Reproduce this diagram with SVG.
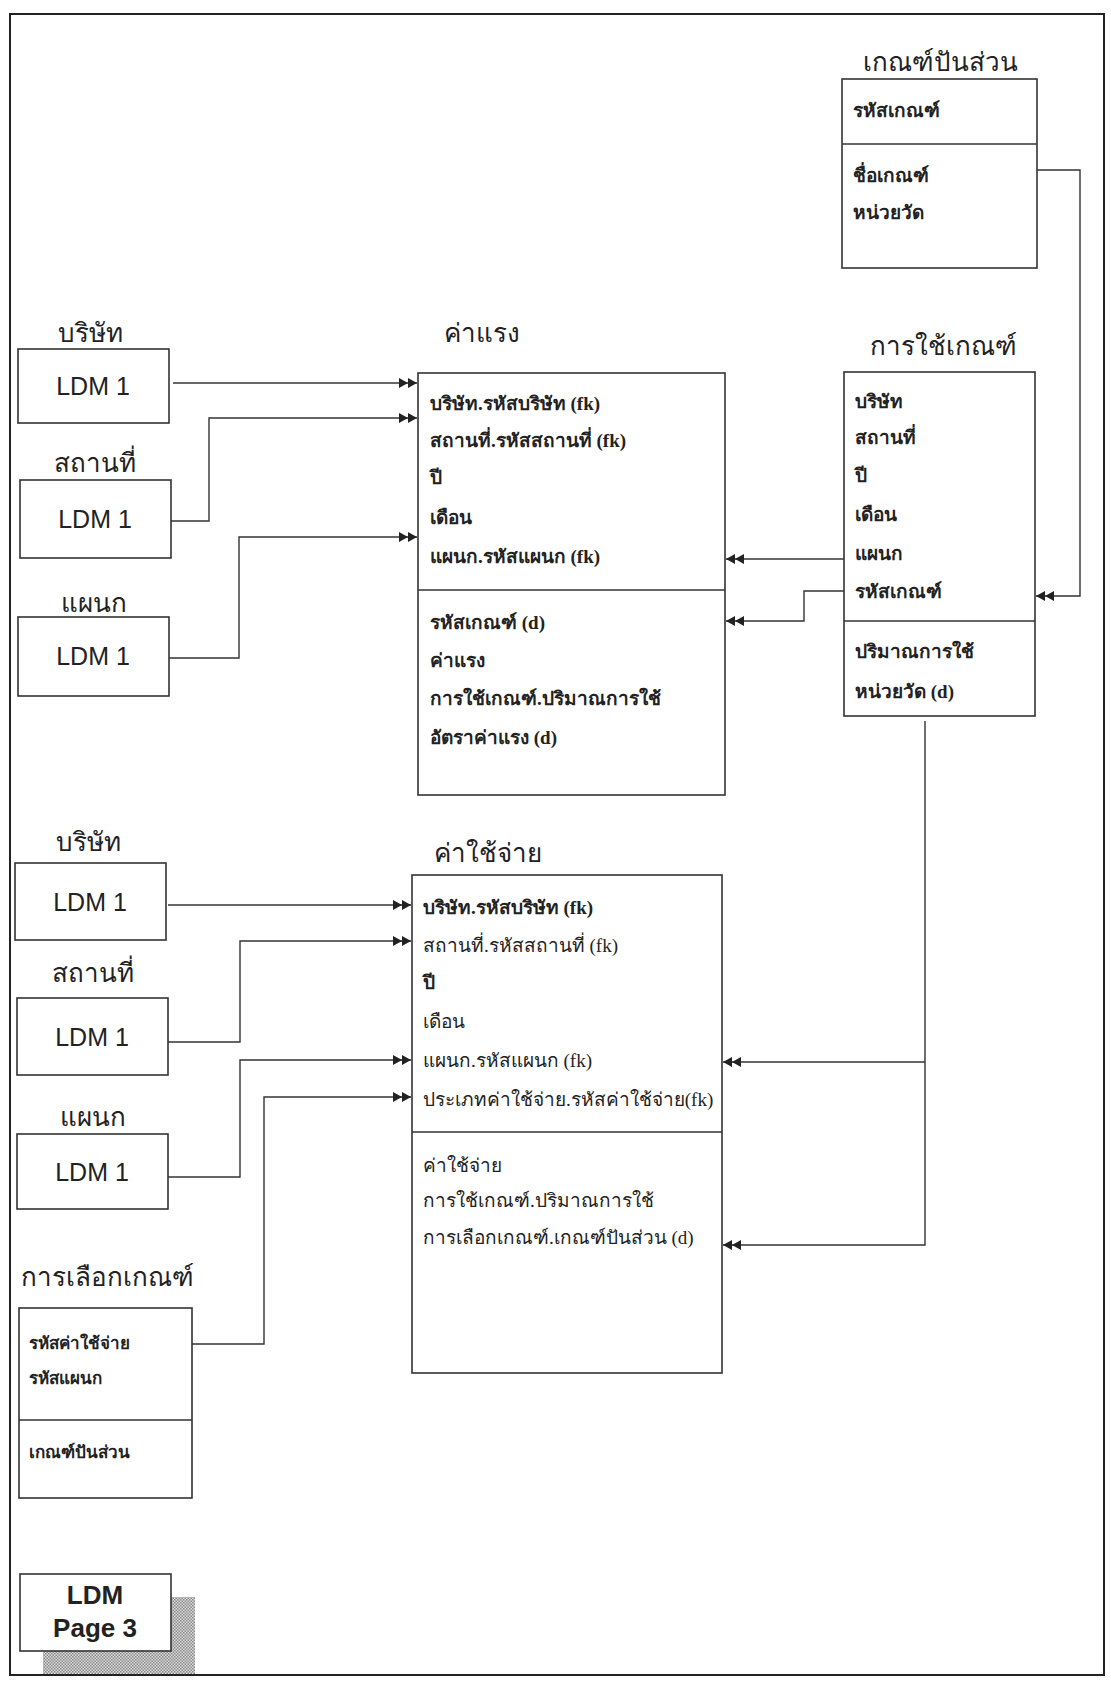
<svg xmlns="http://www.w3.org/2000/svg" width="1111" height="1683" viewBox="0 0 1111 1683">
  <defs>
    <style>
      .frame { fill: none; stroke: #222; stroke-width: 2; }
      .box { fill: #fff; stroke: #333; stroke-width: 1.6; }
      .div { stroke: #333; stroke-width: 1.4; }
      .conn { fill: none; stroke: #333; stroke-width: 1.4; }
      .title { font-family: "Noto Sans", "DejaVu Sans", sans-serif; font-size: 26px; fill: #222; text-anchor: middle; }
      .ldm { font-family: "Liberation Sans", Arial, sans-serif; font-size: 25px; fill: #222; text-anchor: middle; }
      .page { font-family: "Liberation Sans", Arial, sans-serif; font-size: 26px; font-weight: bold; fill: #222; text-anchor: middle; }
      .row { font-family: "Liberation Serif", "Noto Sans", serif; font-size: 19px; font-weight: bold; fill: #222; }
      .rown { font-family: "Liberation Serif", "Noto Sans", serif; font-size: 19px; fill: #222; }
      .rows { font-family: "Noto Sans", "DejaVu Sans", sans-serif; font-size: 17px; font-weight: 600; fill: #222; }
    </style>
    <marker id="dbl" markerUnits="userSpaceOnUse" viewBox="0 0 18 11" refX="18" refY="5.5" markerWidth="18" markerHeight="11" orient="auto">
      <path d="M0,0.5 L9,5.5 L0,10.5 Z M9,0.5 L18,5.5 L9,10.5 Z" fill="#222"/>
    </marker>
    <pattern id="dots" patternUnits="userSpaceOnUse" width="3" height="3">
      <rect width="3" height="3" fill="#ddd"/>
      <rect width="1.5" height="1.5" fill="#888"/>
      <rect x="1.5" y="1.5" width="1.5" height="1.5" fill="#888"/>
    </pattern>
  </defs>

  <rect width="1111" height="1683" fill="#fff"/>
  <rect class="frame" x="10" y="14" width="1094" height="1661"/>

  <g id="connectors">
    <path class="conn" d="M173,383 H417" marker-end="url(#dbl)"/>
    <path class="conn" d="M171,521 H209 V418 H417" marker-end="url(#dbl)"/>
    <path class="conn" d="M169,658 H239 V537 H417" marker-end="url(#dbl)"/>
    <path class="conn" d="M844,559 H726" marker-end="url(#dbl)"/>
    <path class="conn" d="M844,591 H804 V621 H726" marker-end="url(#dbl)"/>
    <path class="conn" d="M1037,170 H1080 V596 H1036" marker-end="url(#dbl)"/>
    <path class="conn" d="M168,905 H411" marker-end="url(#dbl)"/>
    <path class="conn" d="M168,1042 H240 V941 H411" marker-end="url(#dbl)"/>
    <path class="conn" d="M168,1177 H240 V1060 H411" marker-end="url(#dbl)"/>
    <path class="conn" d="M192,1344 H264 V1097 H411" marker-end="url(#dbl)"/>
    <path class="conn" d="M925,721 V1245 H723" marker-end="url(#dbl)"/>
    <path class="conn" d="M925,1062 H723" marker-end="url(#dbl)"/>
  </g>

  <g id="keanpunsuan">
    <text class="title" x="940" y="71">เกณฑ์ปันส่วน</text>
    <rect class="box" x="842" y="79" width="195" height="189"/>
    <line class="div" x1="842" y1="144" x2="1037" y2="144"/>
    <text class="row" x="853" y="117">รหัสเกณฑ์</text>
    <text class="row" x="853" y="182">ชื่อเกณฑ์</text>
    <text class="row" x="853" y="219">หน่วยวัด</text>
  </g>

  <g id="kanchaikean">
    <text class="title" x="943" y="355">การใช้เกณฑ์</text>
    <rect class="box" x="844" y="372" width="191" height="344"/>
    <line class="div" x1="844" y1="621" x2="1035" y2="621"/>
    <text class="row" x="855" y="408">บริษัท</text>
    <text class="row" x="855" y="444">สถานที่</text>
    <text class="row" x="855" y="482">ปี</text>
    <text class="row" x="855" y="521">เดือน</text>
    <text class="row" x="855" y="560">แผนก</text>
    <text class="row" x="855" y="598">รหัสเกณฑ์</text>
    <text class="row" x="855" y="658">ปริมาณการใช้</text>
    <text class="row" x="855" y="698">หน่วยวัด (d)</text>
  </g>

  <g id="kharaeng">
    <text class="title" x="482" y="342">ค่าแรง</text>
    <rect class="box" x="418" y="373" width="307" height="422"/>
    <line class="div" x1="418" y1="590" x2="725" y2="590"/>
    <text class="row" x="430" y="410">บริษัท.รหัสบริษัท (fk)</text>
    <text class="row" x="430" y="447">สถานที่.รหัสสถานที่ (fk)</text>
    <text class="row" x="430" y="484">ปี</text>
    <text class="row" x="430" y="524">เดือน</text>
    <text class="row" x="430" y="563">แผนก.รหัสแผนก (fk)</text>
    <text class="row" x="430" y="629">รหัสเกณฑ์ (d)</text>
    <text class="row" x="430" y="667">ค่าแรง</text>
    <text class="row" x="430" y="705">การใช้เกณฑ์.ปริมาณการใช้</text>
    <text class="row" x="430" y="744">อัตราค่าแรง (d)</text>
  </g>

  <g id="khachaichai">
    <text class="title" x="488" y="862">ค่าใช้จ่าย</text>
    <rect class="box" x="412" y="875" width="310" height="498"/>
    <line class="div" x1="412" y1="1132" x2="722" y2="1132"/>
    <text class="row" x="423" y="914">บริษัท.รหัสบริษัท (fk)</text>
    <text class="rown" x="423" y="952">สถานที่.รหัสสถานที่ (fk)</text>
    <text class="row" x="423" y="989">ปี</text>
    <text class="rown" x="423" y="1028">เดือน</text>
    <text class="rown" x="423" y="1067">แผนก.รหัสแผนก (fk)</text>
    <text class="rown" x="423" y="1106">ประเภทค่าใช้จ่าย.รหัสค่าใช้จ่าย(fk)</text>
    <text class="rown" x="423" y="1172">ค่าใช้จ่าย</text>
    <text class="rown" x="423" y="1207">การใช้เกณฑ์.ปริมาณการใช้</text>
    <text class="rown" x="423" y="1244">การเลือกเกณฑ์.เกณฑ์ปันส่วน (d)</text>
  </g>

  <g id="company1">
    <text class="title" x="90" y="342">บริษัท</text>
    <rect class="box" x="18" y="349" width="151" height="74"/>
    <text class="ldm" x="93" y="395">LDM 1</text>
  </g>
  <g id="location1">
    <text class="title" x="95" y="472">สถานที่</text>
    <rect class="box" x="20" y="480" width="151" height="78"/>
    <text class="ldm" x="95" y="528">LDM 1</text>
  </g>
  <g id="dept1">
    <text class="title" x="94" y="612">แผนก</text>
    <rect class="box" x="18" y="617" width="151" height="79"/>
    <text class="ldm" x="93" y="665">LDM 1</text>
  </g>
  <g id="company2">
    <text class="title" x="88" y="851">บริษัท</text>
    <rect class="box" x="15" y="863" width="151" height="77"/>
    <text class="ldm" x="90" y="911">LDM 1</text>
  </g>
  <g id="location2">
    <text class="title" x="93" y="982">สถานที่</text>
    <rect class="box" x="17" y="998" width="151" height="77"/>
    <text class="ldm" x="92" y="1046">LDM 1</text>
  </g>
  <g id="dept2">
    <text class="title" x="93" y="1126">แผนก</text>
    <rect class="box" x="17" y="1134" width="151" height="75"/>
    <text class="ldm" x="92" y="1181">LDM 1</text>
  </g>

  <g id="kanlueakkean">
    <text class="title" x="107" y="1286">การเลือกเกณฑ์</text>
    <rect class="box" x="19" y="1308" width="173" height="190"/>
    <line class="div" x1="19" y1="1420" x2="192" y2="1420"/>
    <text class="rows" x="29" y="1349">รหัสค่าใช้จ่าย</text>
    <text class="rows" x="29" y="1384">รหัสแผนก</text>
    <text class="rows" x="29" y="1458">เกณฑ์ปันส่วน</text>
  </g>

  <g id="ldm-page3">
    <rect x="43" y="1597" width="152" height="77" fill="url(#dots)"/>
    <rect class="box" x="20" y="1574" width="151" height="77"/>
    <text class="page" x="95" y="1604">LDM</text>
    <text class="page" x="95" y="1637">Page 3</text>
  </g>
</svg>
